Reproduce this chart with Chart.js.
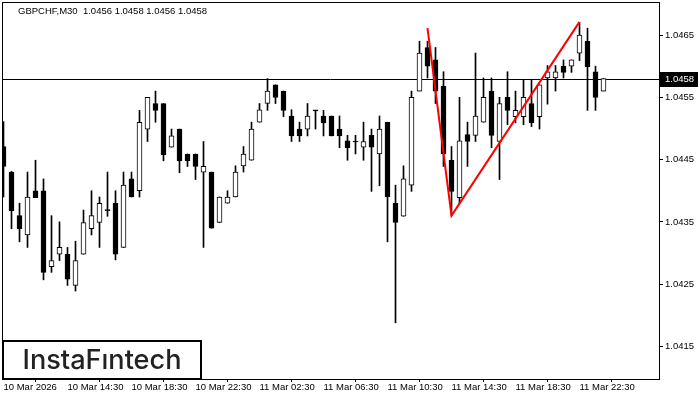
<!DOCTYPE html>
<html><head><meta charset="utf-8">
<script src="https://cdn.jsdelivr.net/npm/chart.js@4.4.1/dist/chart.umd.min.js"></script>
<style>html,body{margin:0;padding:0;background:#fff}canvas{display:block}</style>
</head><body>
<canvas id="c" width="700" height="400"></canvas>
<script>
const symbolTitle = "GBPCHF,M30  1.0456 1.0458 1.0456 1.0458";
const logoText = "InstaF\u0131ntech";

const openP = [1.04471,1.04430,1.04360,1.04329,1.04400,1.04400,1.04278,1.04298,1.04298,1.04248,
1.04298,1.04339,1.04349,1.04369,1.04380,1.04309,1.04419,1.04400,1.04499,1.04540,
1.04540,1.04470,1.04499,1.04459,1.04459,1.04430,1.04430,1.04349,1.04380,1.04390,
1.04440,1.04449,1.04510,1.04540,1.04570,1.04560,1.04520,1.04499,1.04499,1.04529,
1.04520,1.04520,1.04499,1.04480,1.04479,1.04470,1.04489,1.04459,1.04510,1.04380,
1.04359,1.04409,1.04560,1.04630,1.04610,1.04568,1.04449,1.04389,1.04490,1.04489,
1.04510,1.04560,1.04479,1.04550,1.04519,1.04519,1.04540,1.04519,1.04581,1.04581,
1.04600,1.04600,1.04621,1.04640,1.04591,1.04560];

const highP = [1.04511,1.04431,1.04380,1.04430,1.04449,1.04419,1.04360,1.04350,1.04309,1.04319,
1.04369,1.04400,1.04390,1.04430,1.04400,1.04430,1.04430,1.04529,1.04550,1.04560,
1.04540,1.04499,1.04499,1.04459,1.04459,1.04479,1.04430,1.04390,1.04400,1.04440,
1.04471,1.04510,1.04540,1.04580,1.04570,1.04560,1.04530,1.04510,1.04540,1.04529,
1.04529,1.04520,1.04520,1.04489,1.04489,1.04510,1.04499,1.04520,1.04510,1.04409,
1.04440,1.04560,1.04640,1.04640,1.04630,1.04591,1.04471,1.04550,1.04510,1.04621,
1.04581,1.04581,1.04550,1.04591,1.04560,1.04578,1.04578,1.04570,1.04601,1.04601,
1.04610,1.04610,1.04670,1.04661,1.04600,1.04580];

const lowP = [1.04390,1.04339,1.04318,1.04309,1.04389,1.04257,1.04269,1.04288,1.04248,1.04239,
1.04298,1.04329,1.04309,1.04359,1.04289,1.04309,1.04390,1.04390,1.04479,1.04510,
1.04448,1.04470,1.04429,1.04439,1.04418,1.04309,1.04340,1.04349,1.04380,1.04390,
1.04430,1.04449,1.04510,1.04529,1.04540,1.04519,1.04479,1.04479,1.04488,1.04499,
1.04488,1.04488,1.04469,1.04449,1.04459,1.04449,1.04399,1.04408,1.04318,1.04188,
1.04359,1.04399,1.04560,1.04581,1.04540,1.04439,1.04360,1.04379,1.04439,1.04479,
1.04510,1.04469,1.04418,1.04506,1.04509,1.04506,1.04503,1.04499,1.04539,1.04560,
1.04581,1.04590,1.04609,1.04529,1.04529,1.04560];

const closeP = [1.04439,1.04368,1.04339,1.04390,1.04389,1.04269,1.04288,1.04309,1.04258,1.04288,
1.04349,1.04360,1.04380,1.04369,1.04298,1.04409,1.04390,1.04510,1.04550,1.04529,
1.04458,1.04488,1.04448,1.04448,1.04439,1.04439,1.04340,1.04390,1.04390,1.04430,
1.04459,1.04499,1.04530,1.04560,1.04550,1.04529,1.04488,1.04488,1.04520,1.04529,
1.04509,1.04488,1.04488,1.04469,1.04479,1.04479,1.04470,1.04499,1.04390,1.04349,
1.04419,1.04550,1.04621,1.04600,1.04560,1.04459,1.04399,1.04480,1.04479,1.04520,
1.04550,1.04489,1.04540,1.04529,1.04529,1.04550,1.04509,1.04570,1.04591,1.04591,
1.04590,1.04610,1.04650,1.04599,1.04550,1.04580];

const xTickLabels = ["10 Mar 2026","10 Mar 14:30","10 Mar 18:30","10 Mar 22:30","11 Mar 02:30",
"11 Mar 06:30","11 Mar 10:30","11 Mar 14:30","11 Mar 18:30","11 Mar 22:30"];
const barsPerLabel = 8;
const yTickValues = [1.0415,1.0425,1.0435,1.0445,1.0455,1.0465];

const patternIdx = [53, 56, 72];
const patternPrice = [1.04661, 1.04360, 1.04671];

const n = openP.length;
const idx = openP.map((_, i) => i);
const wickData = idx.map(i => ({x: i, y: [lowP[i], highP[i]]}));
const bodyData = idx.map(i => {
  let lo = Math.min(openP[i], closeP[i]), hi = Math.max(openP[i], closeP[i]);
  if (hi - lo < 0.00001) { const m = (hi + lo) / 2; lo = m - 0.000008; hi = m + 0.000008; }
  return {x: i, y: [lo, hi]};
});
const bodyFill = idx.map(i => closeP[i] > openP[i] ? '#ffffff' : '#000000');
const patternData = patternIdx.map((x, k) => ({x: x, y: patternPrice[k]}));

const FONT = 'Liberation Sans';

const decor = {
  id: 'decor',
  beforeDatasetsDraw(chart) {
    const ctx = chart.ctx;
    const y = Math.round(chart.scales.y.getPixelForValue(closeP[n - 1])) + 0.5;
    ctx.save();
    ctx.strokeStyle = '#000'; ctx.lineWidth = 1;
    ctx.beginPath(); ctx.moveTo(2, y); ctx.lineTo(659, y); ctx.stroke();
    ctx.restore();
  },
  afterDraw(chart) {
    const ctx = chart.ctx;
    ctx.save();
    ctx.strokeStyle = '#000'; ctx.lineWidth = 1;
    ctx.strokeRect(2.5, 2.5, 657, 377);
    ctx.fillStyle = '#000';
    ctx.font = '9.5px "' + FONT + '"';
    ctx.textBaseline = 'middle'; ctx.textAlign = 'left';
    ctx.fillText(symbolTitle, 18, 11);
    const y = Math.round(chart.scales.y.getPixelForValue(closeP[n - 1]));
    ctx.fillStyle = '#000';
    ctx.fillRect(660, y - 7, 38, 15);
    ctx.fillStyle = '#fff';
    ctx.fillText(closeP[n - 1].toFixed(4), 665, y + 0.5);
    ctx.fillStyle = '#fff';
    ctx.fillRect(2, 340, 200, 40);
    ctx.strokeStyle = '#000'; ctx.lineWidth = 2;
    ctx.strokeRect(3, 341, 198, 38);
    ctx.fillStyle = '#222';
    let fs = 24;
    ctx.font = '500 ' + fs + 'px Inter';
    const w = ctx.measureText(logoText).width;
    fs = fs * 159 / w;
    ctx.font = '500 ' + fs.toFixed(2) + 'px Inter';
    ctx.textBaseline = 'alphabetic';
    ctx.fillText(logoText, 22.5, 368.5);
    ctx.restore();
  }
};

new Chart(document.getElementById('c').getContext('2d'), {
  type: 'bar',
  data: { datasets: [
    { type: 'line', data: patternData, borderColor: '#ff0000', borderWidth: 2, pointRadius: 0, fill: false, tension: 0, order: 0 },
    { type: 'bar', data: bodyData, backgroundColor: bodyFill, borderColor: '#000', borderWidth: 1, borderSkipped: false, barThickness: 5, grouped: false, order: 1 },
    { type: 'bar', data: wickData, backgroundColor: '#000', borderWidth: 0, barThickness: 1, grouped: false, order: 2 }
  ]},
  options: {
    responsive: false, animation: false,
    layout: { padding: { left: 2, top: 2, right: 0, bottom: 0 } },
    plugins: { legend: { display: false }, tooltip: { enabled: false } },
    scales: {
      x: {
        type: 'linear', min: -0.1875, max: 81.9375, offset: false, position: 'bottom',
        grid: { display: true, drawOnChartArea: false, drawTicks: true, tickLength: 3, color: '#000', lineWidth: 1 },
        border: { display: false },
        afterBuildTicks: s => { s.ticks = xTickLabels.map((_, k) => ({ value: k * barsPerLabel })); },
        afterFit: s => { s.height = 21; s.paddingLeft = 0; s.paddingRight = 0; },
        ticks: { autoSkip: false, maxRotation: 0, minRotation: 0, align: 'start', padding: 0, color: '#000',
          font: { family: FONT, size: 9.5 },
          callback: v => xTickLabels[Math.round(v / barsPerLabel)] }
      },
      y: {
        type: 'linear', position: 'right', min: 1.0409783, max: 1.0470297,
        grid: { display: true, drawOnChartArea: false, drawTicks: true, tickLength: 4, color: '#000', lineWidth: 1 },
        border: { display: false },
        afterBuildTicks: s => { s.ticks = yTickValues.map(v => ({ value: v })); },
        afterFit: s => { s.width = 41; s.paddingTop = 0; s.paddingBottom = 0; },
        ticks: { padding: 2, color: '#000', font: { family: FONT, size: 9.5 }, callback: v => v.toFixed(4) }
      }
    }
  },
  plugins: [decor]
});
</script>
</body></html>
